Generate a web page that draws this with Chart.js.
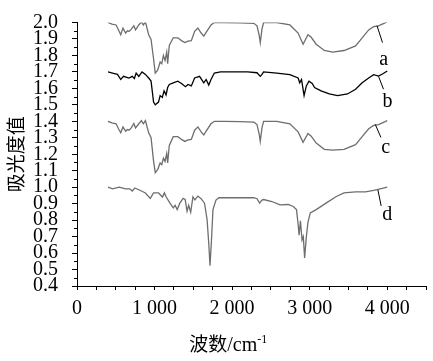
<!DOCTYPE html>
<html>
<head>
<meta charset="utf-8">
<script src="https://cdn.jsdelivr.net/npm/chart.js@4.4.1/dist/chart.umd.min.js"></script>
<style>
  html, body { margin: 0; padding: 0; background: #fff; }
  #wrap { width: 433px; height: 361px; }
</style>
</head>
<body>
<div id="wrap"><canvas id="c" width="433" height="361"></canvas></div>
<script>
// ---- data (wavenumber / absorbance) ----
const waveA = [400, 450, 504, 540, 564, 593, 627, 650, 670, 700, 733, 755, 797, 831, 855, 882, 924, 955, 987, 1009, 1040, 1072, 1093, 1114, 1135, 1157, 1169, 1190, 1241, 1300, 1347, 1390, 1432, 1474, 1517, 1559, 1601, 1635, 1665, 1728, 1771, 1900, 2100, 2280, 2321, 2351, 2363, 2385, 2406, 2576, 2745, 2851, 2915, 2978, 3020, 3084, 3189, 3296, 3443, 3592, 3677, 3761, 3825, 3888, 4000];
const absA = [2.00, 1.99, 1.985, 1.95, 1.926, 1.966, 1.936, 1.95, 1.946, 1.96, 1.98, 1.955, 1.985, 2.004, 1.985, 2.004, 1.926, 1.897, 1.78, 1.692, 1.71, 1.76, 1.75, 1.80, 1.77, 1.82, 1.75, 1.86, 1.907, 1.907, 1.89, 1.878, 1.887, 1.89, 1.946, 1.966, 1.936, 1.917, 1.94, 1.985, 2.0, 2.0, 1.998, 1.995, 1.98, 1.917, 1.878, 1.96, 2.0, 2.0, 1.985, 1.936, 1.868, 1.926, 1.91, 1.868, 1.83, 1.82, 1.83, 1.858, 1.907, 1.955, 1.975, 1.98, 2.004];

const waveB = [400, 458, 522, 564, 600, 670, 712, 740, 763, 797, 839, 882, 924, 955, 987, 1009, 1051, 1072, 1100, 1123, 1148, 1169, 1190, 1241, 1300, 1347, 1398, 1432, 1474, 1517, 1580, 1635, 1665, 1699, 1728, 1771, 1850, 2000, 2200, 2321, 2363, 2385, 2406, 2576, 2745, 2851, 2872, 2895, 2928, 2957, 2991, 3033, 3063, 3147, 3253, 3360, 3487, 3592, 3677, 3761, 3825, 3888, 3950, 4000];
const absB = [1.70, 1.693, 1.685, 1.654, 1.673, 1.663, 1.673, 1.66, 1.693, 1.673, 1.70, 1.685, 1.663, 1.644, 1.517, 1.50, 1.517, 1.556, 1.545, 1.585, 1.56, 1.605, 1.624, 1.634, 1.644, 1.63, 1.61, 1.624, 1.615, 1.663, 1.673, 1.634, 1.654, 1.62, 1.654, 1.693, 1.70, 1.70, 1.70, 1.695, 1.673, 1.685, 1.70, 1.693, 1.683, 1.663, 1.634, 1.654, 1.556, 1.615, 1.644, 1.63, 1.605, 1.585, 1.566, 1.556, 1.566, 1.595, 1.634, 1.663, 1.683, 1.675, 1.69, 1.706];

const waveC = waveA;
const absC = [1.40, 1.39, 1.385, 1.35, 1.33, 1.366, 1.34, 1.35, 1.346, 1.36, 1.387, 1.36, 1.385, 1.404, 1.385, 1.404, 1.33, 1.30, 1.16, 1.088, 1.107, 1.147, 1.137, 1.176, 1.156, 1.205, 1.147, 1.254, 1.307, 1.307, 1.29, 1.278, 1.287, 1.29, 1.346, 1.366, 1.336, 1.317, 1.34, 1.385, 1.40, 1.40, 1.398, 1.395, 1.38, 1.317, 1.278, 1.36, 1.40, 1.40, 1.385, 1.336, 1.273, 1.326, 1.31, 1.268, 1.23, 1.225, 1.23, 1.258, 1.307, 1.355, 1.375, 1.38, 1.404];

const waveD = [400, 458, 543, 627, 680, 712, 746, 818, 882, 945, 987, 1051, 1102, 1127, 1150, 1199, 1241, 1265, 1292, 1326, 1368, 1395, 1419, 1440, 1466, 1495, 1520, 1559, 1600, 1644, 1677, 1700, 1715, 1733, 1753, 1792, 1830, 2000, 2280, 2321, 2355, 2385, 2406, 2512, 2618, 2724, 2788, 2830, 2851, 2864, 2881, 2902, 2918, 2935, 2957, 2978, 3008, 3084, 3211, 3338, 3443, 3592, 3719, 3825, 3910, 4000];
const absD = [1.00, 0.99, 1.00, 0.99, 0.99, 0.977, 0.995, 0.98, 0.965, 0.932, 0.965, 0.965, 0.94, 0.965, 0.94, 0.903, 0.874, 0.89, 0.864, 0.903, 0.932, 0.925, 0.854, 0.89, 0.848, 0.942, 0.923, 0.946, 0.93, 0.903, 0.805, 0.65, 0.523, 0.669, 0.864, 0.922, 0.936, 0.936, 0.936, 0.93, 0.903, 0.922, 0.925, 0.913, 0.893, 0.895, 0.883, 0.864, 0.776, 0.708, 0.796, 0.679, 0.70, 0.571, 0.698, 0.786, 0.844, 0.864, 0.903, 0.942, 0.965, 0.971, 0.971, 0.98, 0.99, 1.00];

const seriesNames = ['a', 'b', 'c', 'd'];
const xTickLabels = ['0', '1 000', '2 000', '3 000', '4 000'];
const xTickValues = [0, 1000, 2000, 3000, 4000];
const yTitle = '吸光度值';
const xTitleMain = '波数';
const xTitleUnit = '/cm';
const xTitleSup = '-1';

// series label anchors in data units: [leader start x, y, leader end x, y, text x, text baseline y]
const labelA = [3868, 1.981, 3939, 1.878, 3954, 1.739];
const labelB = [3888, 1.673, 3952, 1.595, 4005, 1.488];
const labelC = [3846, 1.381, 3919, 1.302, 3980, 1.207];
const labelD = [3880, 0.983, 3922, 0.886, 4000, 0.798];

const toPts = (xs, ys) => xs.map((x, i) => ({ x: x, y: ys[i] }));

const serif = "'Liberation Serif', 'Times New Roman', serif";
const cjk = "'Noto Sans CJK SC', sans-serif";

const annotations = {
  id: 'annot',
  afterDraw(chart) {
    const ctx = chart.ctx;
    const xs = chart.scales.x, ys = chart.scales.y;
    const ca = chart.chartArea;
    ctx.save();
    // minor y ticks
    ctx.strokeStyle = '#000';
    ctx.lineWidth = 1;
    for (let v = 0.45; v < 2.0; v += 0.1) {
      const py = Math.round(ys.getPixelForValue(v)) + 0.5;
      ctx.beginPath();
      ctx.moveTo(ca.left - 3, py);
      ctx.lineTo(ca.left, py);
      ctx.stroke();
    }
    // series labels with leader lines
    const labs = [labelA, labelB, labelC, labelD];
    ctx.font = '20px ' + serif;
    ctx.fillStyle = '#000';
    ctx.textAlign = 'center';
    ctx.textBaseline = 'alphabetic';
    labs.forEach((l, i) => {
      ctx.beginPath();
      ctx.moveTo(xs.getPixelForValue(l[0]), ys.getPixelForValue(l[1]));
      ctx.lineTo(xs.getPixelForValue(l[2]), ys.getPixelForValue(l[3]));
      ctx.stroke();
      ctx.fillText(seriesNames[i], xs.getPixelForValue(l[4]), ys.getPixelForValue(l[5]));
    });
    // x axis title with superscript
    const mainFont = '19px ' + cjk;
    const unitFont = '20px ' + serif;
    const supFont = '12px ' + serif;
    ctx.font = mainFont; const w1 = ctx.measureText(xTitleMain).width;
    ctx.font = unitFont; const w2 = ctx.measureText(xTitleUnit).width;
    ctx.font = supFont; const w3 = ctx.measureText(xTitleSup).width;
    const total = w1 + w2 + w3;
    const cx = xs.getPixelForValue(1950);
    const base = 351;
    let x0 = cx - total / 2;
    ctx.textAlign = 'left';
    ctx.font = mainFont; ctx.fillText(xTitleMain, x0, base); x0 += w1;
    ctx.font = unitFont; ctx.fillText(xTitleUnit, x0, base); x0 += w2;
    ctx.font = supFont; ctx.fillText(xTitleSup, x0, base - 8);
    ctx.restore();
  }
};

const gray = '#6e6e6e';
new Chart(document.getElementById('c'), {
  type: 'line',
  data: {
    datasets: [
      { label: seriesNames[0], data: toPts(waveA, absA), borderColor: gray },
      { label: seriesNames[1], data: toPts(waveB, absB), borderColor: '#000' },
      { label: seriesNames[2], data: toPts(waveC, absC), borderColor: gray },
      { label: seriesNames[3], data: toPts(waveD, absD), borderColor: gray }
    ]
  },
  options: {
    responsive: false,
    animation: false,
    devicePixelRatio: 1,
    layout: { padding: { top: 12, right: 2, left: 0, bottom: 0 } },
    elements: {
      point: { radius: 0 },
      line: { borderWidth: 1.3, tension: 0, fill: false }
    },
    plugins: { legend: { display: false }, tooltip: { enabled: false } },
    scales: {
      x: {
        type: 'linear',
        min: 0, max: 4500,
        ticks: {
          stepSize: 250,
          autoSkip: false,
          maxRotation: 0,
          color: '#000',
          padding: 7,
          font: { family: serif, size: 20 },
          callback: (v) => {
            const i = xTickValues.indexOf(v);
            return i >= 0 ? xTickLabels[i] : '';
          }
        },
        grid: { drawOnChartArea: false, drawTicks: true, tickLength: 4, color: '#000' },
        border: { color: '#000', width: 1 },
        afterFit: (s) => { s.height = 75; }
      },
      y: {
        min: 0.4, max: 2.0,
        ticks: {
          stepSize: 0.1,
          autoSkip: false,
          color: '#000',
          padding: 14,
          font: { family: serif, size: 20, lineHeight: 0.85 },
          callback: (v) => Number(v).toFixed(1)
        },
        grid: { drawOnChartArea: false, drawTicks: true, tickLength: 5, color: '#000' },
        border: { color: '#000', width: 1 },
        title: {
          display: true,
          text: yTitle,
          color: '#000',
          font: { family: cjk, size: 19 },
          padding: { top: 4, bottom: 0 }
        },
        afterFit: (s) => { s.width = 77; }
      }
    }
  },
  plugins: [annotations]
});
</script>
</body>
</html>
